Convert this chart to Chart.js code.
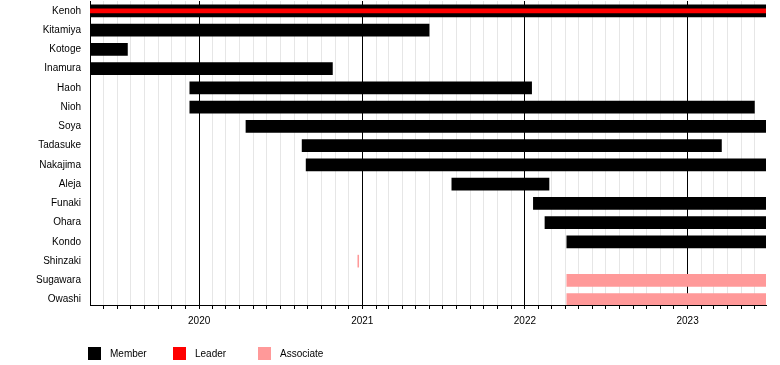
<!DOCTYPE html>
<html>
<head>
<meta charset="utf-8">
<script src="https://cdn.jsdelivr.net/npm/chart.js@4.4.1/dist/chart.umd.min.js"></script>
<style>
  body { margin: 0; background: #fff; }
</style>
</head>
<body>
<canvas id="timeline" width="780" height="365"></canvas>
<script>
// rows, top to bottom
const members = ['Kenoh', 'Kitamiya', 'Kotoge', 'Inamura', 'Haoh', 'Nioh', 'Soya', 'Tadasuke',
  'Nakajima', 'Aleja', 'Funaki', 'Ohara', 'Kondo', 'Shinzaki', 'Sugawara', 'Owashi'];

// black bars
const memberName  = ['Kenoh', 'Kitamiya', 'Kotoge', 'Inamura', 'Haoh', 'Nioh', 'Soya', 'Tadasuke',
  'Nakajima', 'Aleja', 'Funaki', 'Ohara', 'Kondo'];
const memberStart = ['2019-05-01', '2019-05-01', '2019-05-01', '2019-05-01', '2019-12-11', '2019-12-11',
  '2020-04-15', '2020-08-19', '2020-08-28', '2021-07-21', '2022-01-20', '2022-02-15', '2022-04-05'];
const memberEnd   = ['2023-06-26', '2021-05-31', '2019-07-24', '2020-10-26', '2022-01-16', '2023-05-31',
  '2023-06-26', '2023-03-18', '2023-06-26', '2022-02-24', '2023-06-26', '2023-06-26', '2023-06-26'];

// red bar
const leaderName  = ['Kenoh'];
const leaderStart = ['2019-05-01'];
const leaderEnd   = ['2023-06-26'];

// pink bars
const associateName  = ['Shinzaki', 'Sugawara', 'Owashi'];
const associateStart = ['2020-12-22', '2022-04-05', '2022-04-05'];
const associateEnd   = ['2020-12-24', '2023-06-26', '2023-06-26'];

const yearLabels = ['2020', '2021', '2022', '2023'];

const axisStart = '2019-05-01';
const axisEnd = '2023-06-26';

function day(s) {
  const p = s.split('-').map(Number);
  return Date.UTC(p[0], p[1] - 1, p[2]);
}

function spans(names, starts, ends) {
  return names.map((n, i) => ({ x: [day(starts[i]), day(ends[i])], y: members.indexOf(n) }));
}

Chart.defaults.font.family = '"Liberation Sans", Arial, sans-serif';
Chart.defaults.font.size = 10;
Chart.defaults.color = '#000';

// legend under the axis, fixed spacing
const legendItems = [
  { text: 'Member', color: '#000000' },
  { text: 'Leader', color: '#ff0000' },
  { text: 'Associate', color: '#ff9999' }
];
const bottomLegend = {
  id: 'bottomLegend',
  afterDraw(chart) {
    const ctx = chart.ctx;
    ctx.save();
    ctx.font = '10px "Liberation Sans", Arial, sans-serif';
    ctx.textBaseline = 'middle';
    legendItems.forEach((item, i) => {
      const x = 88 + i * 85;
      ctx.fillStyle = item.color;
      ctx.fillRect(x, 347, 13, 13);
      ctx.fillStyle = '#000';
      ctx.fillText(item.text, x + 22, 354);
    });
    ctx.restore();
  }
};

const ctx = document.getElementById('timeline');

new Chart(ctx, {
  type: 'bar',
  data: {
    datasets: [
      {
        label: 'Leader',
        data: spans(leaderName, leaderStart, leaderEnd),
        backgroundColor: '#ff0000',
        barThickness: 4,
        grouped: false,
        order: 0
      },
      {
        label: 'Member',
        data: spans(memberName, memberStart, memberEnd),
        backgroundColor: '#000000',
        barThickness: 12,
        grouped: false,
        order: 1
      },
      {
        label: 'Associate',
        data: spans(associateName, associateStart, associateEnd),
        backgroundColor: '#ff9999',
        barThickness: 12,
        grouped: false,
        order: 2
      }
    ]
  },
  options: {
    indexAxis: 'y',
    responsive: false,
    animation: false,
    layout: { padding: { left: 0, right: 14, top: 1, bottom: 35 } },
    plugins: {
      legend: { display: false },
      tooltip: { enabled: false }
    },
    scales: {
      x: {
        type: 'linear',
        position: 'bottom',
        min: day(axisStart),
        max: day(axisEnd),
        afterBuildTicks(scale) {
          const t = [];
          const s = new Date(day(axisStart));
          let y = s.getUTCFullYear(), m = s.getUTCMonth() + 1;
          while (Date.UTC(y, m, 1) <= scale.max) {
            t.push({ value: Date.UTC(y, m, 1) });
            m++;
            if (m > 11) { m = 0; y++; }
          }
          scale.ticks = t;
        },
        afterFit(scale) {
          scale.height = 25;
          scale.paddingLeft = 0;
          scale.paddingRight = 0;
        },
        ticks: {
          autoSkip: false,
          maxRotation: 0,
          padding: 6,
          callback(value) {
            const d = new Date(value);
            if (d.getUTCMonth() !== 0) return '';
            const lab = yearLabels.find(l => l === String(d.getUTCFullYear()));
            return lab || '';
          }
        },
        grid: {
          color(c) {
            if (!c.tick) return '#e6e6e6';
            return new Date(c.tick.value).getUTCMonth() === 0 ? '#000' : '#e6e6e6';
          },
          tickColor: '#000',
          tickLength: 4
        },
        border: { color: '#000', width: 1 }
      },
      y: {
        type: 'linear',
        reverse: true,
        offset: false,
        min: -0.514,
        max: 15.278,
        afterBuildTicks(scale) {
          scale.ticks = members.map((_, i) => ({ value: i }));
        },
        afterFit(scale) {
          scale.width = 90;
          scale.paddingTop = 0;
          scale.paddingBottom = 0;
        },
        ticks: {
          autoSkip: false,
          padding: 1,
          callback(value) { return members[value]; }
        },
        grid: { display: false },
        border: { color: '#000', width: 1 }
      }
    }
  },
  plugins: [bottomLegend]
});
</script>
</body>
</html>
